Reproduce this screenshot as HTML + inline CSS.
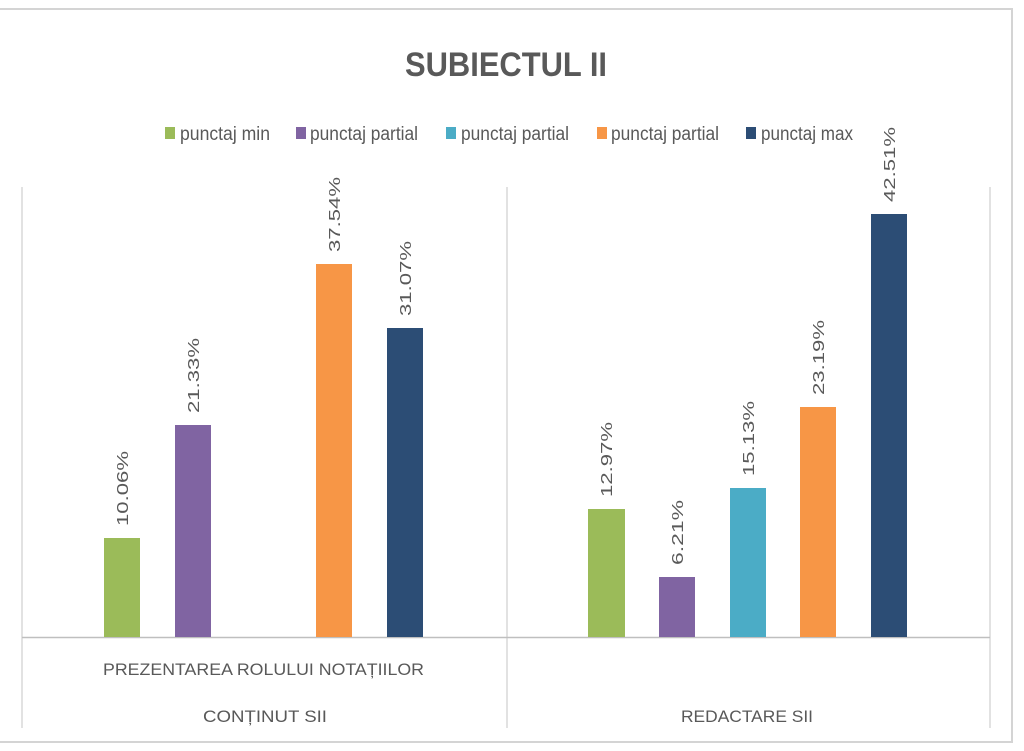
<!DOCTYPE html>
<html><head><style>
html,body{margin:0;padding:0;background:#fff;}
svg{display:block;}
text{font-family:"Liberation Sans Narrow","Liberation Sans",sans-serif;fill:#595959;}
</style></head><body>
<svg width="1024" height="751" viewBox="0 0 1024 751">
<rect x="0" y="0" width="1024" height="751" fill="#fff"/>
<rect x="-2" y="9" width="1014" height="733" fill="#fff" stroke="#d4d4d4" stroke-width="2"/>
<text x="405" y="76" font-size="34" font-weight="bold" textLength="202" lengthAdjust="spacingAndGlyphs">SUBIECTUL II</text>
<g font-size="19">
<rect x="165" y="127" width="10" height="12" fill="#9bbb59"/><text x="180" y="140" textLength="90" lengthAdjust="spacingAndGlyphs">punctaj min</text>
<rect x="296" y="127" width="10" height="12" fill="#8064a2"/><text x="310" y="140" textLength="108" lengthAdjust="spacingAndGlyphs">punctaj partial</text>
<rect x="446" y="127" width="10" height="12" fill="#4bacc6"/><text x="461" y="140" textLength="108" lengthAdjust="spacingAndGlyphs">punctaj partial</text>
<rect x="597" y="127" width="10" height="12" fill="#f79646"/><text x="611" y="140" textLength="108" lengthAdjust="spacingAndGlyphs">punctaj partial</text>
<rect x="746" y="127" width="10" height="12" fill="#2c4d75"/><text x="761" y="140" textLength="92" lengthAdjust="spacingAndGlyphs">punctaj max</text>
</g>
<g stroke="#d9d9d9" stroke-width="1.5">
<line x1="22" y1="187" x2="22" y2="728"/>
<line x1="507" y1="187" x2="507" y2="728"/>
<line x1="990" y1="187" x2="990" y2="728"/>
<line x1="22" y1="637.5" x2="990" y2="637.5" stroke="#bfbfbf"/>
</g>
<g>
<rect x="104" y="538" width="36" height="99" fill="#9bbb59"/>
<rect x="175" y="425" width="36" height="212" fill="#8064a2"/>
<rect x="316" y="264" width="36" height="373" fill="#f79646"/>
<rect x="387" y="328" width="36" height="309" fill="#2c4d75"/>
<rect x="588" y="509" width="37" height="128" fill="#9bbb59"/>
<rect x="659" y="577" width="36" height="60" fill="#8064a2"/>
<rect x="730" y="488" width="36" height="149" fill="#4bacc6"/>
<rect x="800" y="407" width="36" height="230" fill="#f79646"/>
<rect x="871" y="214" width="36" height="423" fill="#2c4d75"/>
</g>
<g font-size="16">
<text transform="translate(128,526) rotate(-90)" textLength="75" lengthAdjust="spacingAndGlyphs">10.06%</text>
<text transform="translate(199,413) rotate(-90)" textLength="75" lengthAdjust="spacingAndGlyphs">21.33%</text>
<text transform="translate(340,252) rotate(-90)" textLength="75" lengthAdjust="spacingAndGlyphs">37.54%</text>
<text transform="translate(411,316) rotate(-90)" textLength="75" lengthAdjust="spacingAndGlyphs">31.07%</text>
<text transform="translate(612,497) rotate(-90)" textLength="75" lengthAdjust="spacingAndGlyphs">12.97%</text>
<text transform="translate(683,565) rotate(-90)" textLength="65" lengthAdjust="spacingAndGlyphs">6.21%</text>
<text transform="translate(754,476) rotate(-90)" textLength="75" lengthAdjust="spacingAndGlyphs">15.13%</text>
<text transform="translate(824,395) rotate(-90)" textLength="75" lengthAdjust="spacingAndGlyphs">23.19%</text>
<text transform="translate(895,202) rotate(-90)" textLength="75" lengthAdjust="spacingAndGlyphs">42.51%</text>
</g>
<g font-size="17">
<text x="103" y="675" textLength="321" lengthAdjust="spacingAndGlyphs">PREZENTAREA ROLULUI NOTAȚIILOR</text>
<text x="203" y="722" textLength="124" lengthAdjust="spacingAndGlyphs">CONȚINUT SII</text>
<text x="681" y="722" textLength="132" lengthAdjust="spacingAndGlyphs">REDACTARE SII</text>
</g>
</svg>
</body></html>
